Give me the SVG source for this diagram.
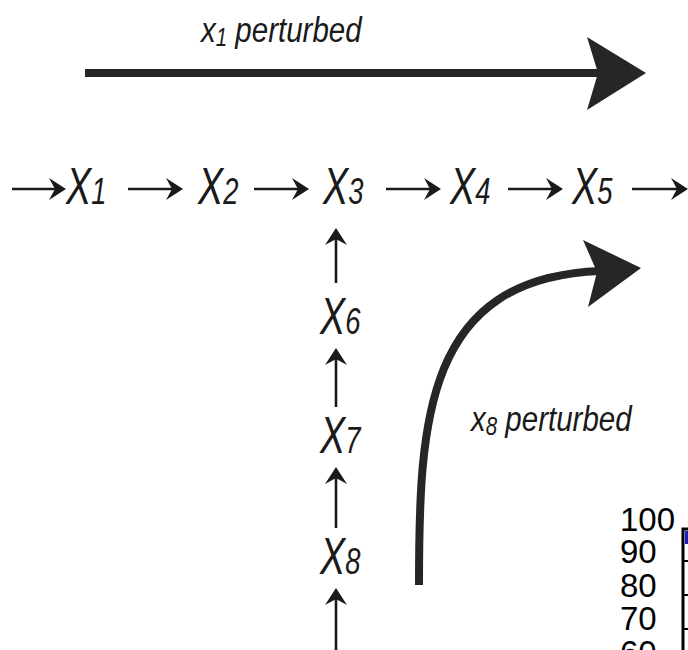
<svg xmlns="http://www.w3.org/2000/svg" width="688" height="650" viewBox="0 0 688 650">
<style>
.node{font-family:"Liberation Sans",Arial,sans-serif;font-style:italic;font-size:51px;fill:#1a1a1a}
.sub{font-size:37px}
.lbl{font-family:"Liberation Sans",Arial,sans-serif;font-style:italic;font-size:36px;fill:#1a1a1a}
.lsub{font-size:25px}
.thin{fill:none;stroke:#1a1a1a;stroke-width:2.6;marker-end:url(#ah)}
.thick{fill:none;stroke:#262626;stroke-width:8}
.head{fill:#262626}
.axis{font-family:"Liberation Sans",Arial,sans-serif;font-size:33px;fill:#000}
</style>
<defs>
<marker id="ah" viewBox="-18 -12 20 24" markerWidth="20" markerHeight="24" refX="-10" refY="0" orient="auto" markerUnits="userSpaceOnUse">
<path d="M0,0 L-17,-11 L-11,0 L-17,11 Z" fill="#1a1a1a"/>
</marker>
</defs>
<g id="connectors">
<path class="thin" d="M12,189 H56"/>
<path class="thin" d="M128,189 H173"/>
<path class="thin" d="M254,189 H299"/>
<path class="thin" d="M386,189 H431"/>
<path class="thin" d="M508,189 H553"/>
<path class="thin" d="M632,189 H678"/>
<path class="thin" d="M336,283 V238"/>
<path class="thin" d="M336,407 V358"/>
<path class="thin" d="M336,528 V477"/>
<path class="thin" d="M336,650 V598"/>
<path class="thick" d="M85,73 H600"/>
<polygon class="head" points="646,73 587,37 598,73 587,110"/>
<path class="thick" d="M419,585 C419,420 425,278 600,271"/>
<polygon class="head" points="641,268 583,240 597,272 588,307"/>
</g>
<g id="label-x1">
<text class="lbl" transform="translate(201,42) scale(0.82,1)">x<tspan class="lsub" dy="4">1</tspan><tspan dy="-4"> perturbed</tspan></text>
</g>
<g id="label-x8">
<text class="lbl" transform="translate(471,431) scale(0.82,1)">x<tspan class="lsub" dy="4">8</tspan><tspan dy="-4"> perturbed</tspan></text>
</g>
<g id="X1"><text class="node" transform="translate(66,204) scale(0.74,1)">X<tspan class="sub">1</tspan></text></g>
<g id="X2"><text class="node" transform="translate(198,204) scale(0.74,1)">X<tspan class="sub">2</tspan></text></g>
<g id="X3"><text class="node" transform="translate(323,204) scale(0.74,1)">X<tspan class="sub">3</tspan></text></g>
<g id="X4"><text class="node" transform="translate(450,204) scale(0.74,1)">X<tspan class="sub">4</tspan></text></g>
<g id="X5"><text class="node" transform="translate(572,204) scale(0.74,1)">X<tspan class="sub">5</tspan></text></g>
<g id="X6"><text class="node" transform="translate(320,334) scale(0.74,1)">X<tspan class="sub">6</tspan></text></g>
<g id="X7"><text class="node" transform="translate(320,453) scale(0.74,1)">X<tspan class="sub">7</tspan></text></g>
<g id="X8"><text class="node" transform="translate(320,574) scale(0.74,1)">X<tspan class="sub">8</tspan></text></g>
<g id="chart">
<text class="axis" x="620" y="531">100</text>
<text class="axis" x="620" y="563">90</text>
<text class="axis" x="620" y="597">80</text>
<text class="axis" x="620" y="630">70</text>
<text class="axis" x="620" y="664">60</text>
<rect x="685" y="531" width="3" height="13" fill="#1c1cc8"/>
<path d="M683,650 V529 H690" fill="none" stroke="#000" stroke-width="3"/>
<path d="M684,561 H688 M684,595 H688 M684,629 H688" stroke="#000" stroke-width="2"/>
</g>
</svg>
